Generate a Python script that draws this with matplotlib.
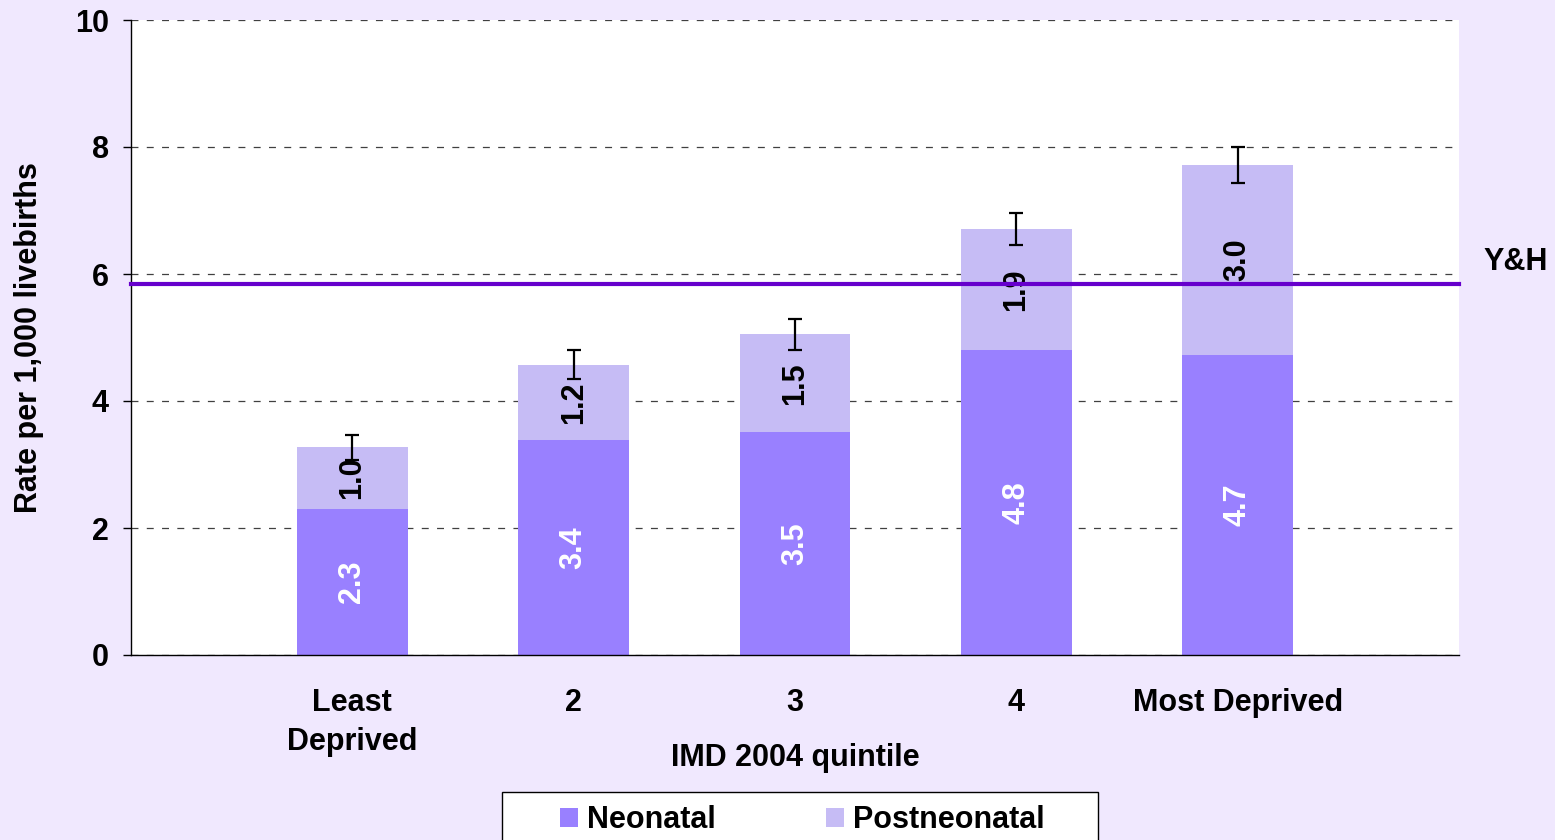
import matplotlib
matplotlib.use("Agg")
import matplotlib.pyplot as plt
from matplotlib.patches import Rectangle
import numpy as np

# values
quintiles = ["Least\nDeprived", "2", "3", "4", "Most Deprived"]
neonatal = [2.30, 3.39, 3.51, 4.80, 4.72]
postneonatal = [0.97, 1.18, 1.54, 1.91, 3.00]
total_err = [0.20, 0.23, 0.24, 0.25, 0.28]
yh_rate = 5.84

plt.rcParams['font.family'] = ['Liberation Sans', 'DejaVu Sans']
plt.rcParams['font.weight'] = 'bold'
plt.rcParams['lines.scale_dashes'] = False
fs = 22

neo_col = '#9980FF'
post_col = '#C6BCF5'
bg_col = '#F0E8FE'

fig = plt.figure(figsize=(15.55, 8.4), dpi=100, facecolor=bg_col)
ax = fig.add_axes([131 / 1555, 1 - 655 / 840, 1328 / 1555, 635 / 840])
ax.set_facecolor('white')

x = np.arange(1, len(quintiles) + 1)
neo = np.array(neonatal)
post = np.array(postneonatal)
tot = neo + post

ax.bar(x, neo, width=0.5, color=neo_col, label='Neonatal', zorder=2)
ax.bar(x, post, width=0.5, bottom=neo, color=post_col, label='Postneonatal', zorder=2)
ax.errorbar(x, tot, yerr=total_err, fmt='none', ecolor='black', elinewidth=1.6,
            capsize=4.7, capthick=1.6, zorder=3)

for xi, n, p in zip(x, neo, post):
    ax.text(xi, n / 2, f"{n:.1f}", rotation=90, ha='center', va='center',
            color='white', fontsize=fs, fontweight='bold', zorder=4)
    ax.text(xi, n + p / 2, f"{p:.1f}", rotation=90, ha='center', va='center',
            color='black', fontsize=fs, fontweight='bold', zorder=4)

ax.axhline(yh_rate, color='#6600CC', lw=3, zorder=5, clip_on=False)
ax.text(1.0188, 6.19, "Y&H", transform=ax.get_yaxis_transform(), ha='left', va='center',
        fontsize=fs, fontweight='bold', clip_on=False)

ax.set_xlim(0, 6)
ax.set_ylim(0, 10)
ax.set_yticks([0, 2, 4, 6, 8, 10])
ax.set_xticks(x)
ax.set_xticklabels(quintiles, linespacing=1.36, va='top')
ax.tick_params(axis='x', length=0, pad=24, labelsize=fs)
ax.tick_params(axis='y', length=6, width=1, pad=10, labelsize=fs, direction='out')
ax.yaxis.grid(True, color='#404040', lw=0.9, linestyle=(0, (5, 6)), zorder=0)
ax.set_axisbelow(True)
for s in ['top', 'right']:
    ax.spines[s].set_visible(False)
for s in ['left', 'bottom']:
    ax.spines[s].set_color('black')
    ax.spines[s].set_linewidth(1)

ax.set_xlabel("IMD 2004 quintile", fontsize=fs, fontweight='bold', labelpad=-10)
ax.set_ylabel("Rate per 1,000 livebirths", fontsize=fs, fontweight='bold', labelpad=22)

# legend box, cut off by bottom edge as in the original
fig.add_artist(Rectangle((502 / 1555, -0.05), 596 / 1555, 0.05 + 1 - 792 / 840,
                         transform=fig.transFigure, facecolor='white',
                         edgecolor='black', lw=1, zorder=5))
h, l = ax.get_legend_handles_labels()
leg = fig.legend(h, l, loc='center', bbox_to_anchor=(0.516, 1 - 820 / 840), ncol=2,
                 frameon=False, fontsize=fs, handlelength=0.6, handleheight=0.6,
                 handletextpad=0.3, columnspacing=3.6, borderpad=0)
leg.set_zorder(6)

fig.savefig("out.png", dpi=100, facecolor=bg_col)
